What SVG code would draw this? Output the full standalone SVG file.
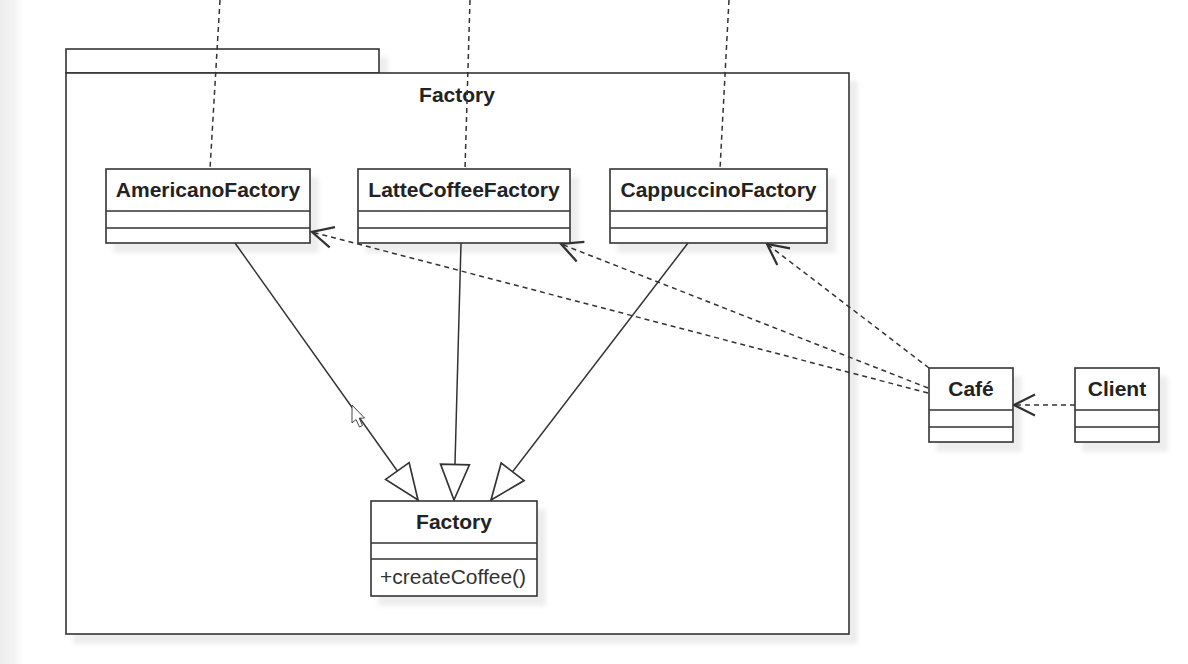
<svg xmlns="http://www.w3.org/2000/svg" width="1188" height="664" viewBox="0 0 1188 664">
<style>
  .box{fill:#fff;stroke:#333;stroke-width:1.6}
  .div{stroke:#333;stroke-width:1.6;fill:none}
  .ttl{font-family:"Liberation Sans",Arial,sans-serif;font-size:21px;font-weight:bold;fill:#222;text-anchor:middle}
  .mem{font-family:"Liberation Sans",Arial,sans-serif;font-size:21px;fill:#333}
  .gen{stroke:#333;stroke-width:1.5;fill:none;marker-end:url(#tri)}
  .dep{stroke:#333;stroke-width:1.5;fill:none;stroke-dasharray:5 4;marker-end:url(#open)}
  .dash{stroke:#333;stroke-width:1.5;fill:none;stroke-dasharray:5 4}
</style>
<defs>
  <linearGradient id="edge" x1="0" x2="1" y1="0" y2="0">
    <stop offset="0" stop-color="#eeeeee"/>
    <stop offset="0.6" stop-color="#f4f4f4"/>
    <stop offset="1" stop-color="#ffffff"/>
  </linearGradient>
  <filter id="sh" x="-10%" y="-10%" width="130%" height="140%">
    <feDropShadow dx="8" dy="9" stdDeviation="2" flood-color="#000" flood-opacity="0.07"/>
  </filter>
  <marker id="tri" markerUnits="userSpaceOnUse" markerWidth="40" markerHeight="40" viewBox="-34 -15 36 30" refX="0" refY="0" orient="auto">
    <path d="M0,0 L-32,-13 L-32,13 Z" fill="#fff" stroke="#333" stroke-width="1.5"/>
  </marker>
  <marker id="open" markerUnits="userSpaceOnUse" markerWidth="30" markerHeight="30" viewBox="-16 -10 18 20" refX="0" refY="0" orient="auto">
    <path d="M-14,-7 L0,0 L-14,7" fill="none" stroke="#333" stroke-width="1.5"/>
  </marker>
</defs>
<rect x="0" y="0" width="1188" height="664" fill="#fff"/>
<rect x="0" y="0" width="24" height="664" fill="url(#edge)"/>

<g id="package-Factory">
  <g filter="url(#sh)">
    <rect class="box" x="66" y="49" width="313" height="24"/>
    <rect class="box" x="66" y="73" width="783" height="561"/>
  </g>
  <text class="ttl" x="457" y="102">Factory</text>
</g>

<g id="connectors">
  <path class="dash" d="M220,0 L210,169"/>
  <path class="dash" d="M470,0 L465,169"/>
  <path class="dash" d="M729,0 L720,169"/>
  <path class="gen" d="M235,243 L418,500"/>
  <path class="gen" d="M461,243 L454,500"/>
  <path class="gen" d="M688,243 L491,500"/>
  <path class="dep" d="M928,393 L312,232"/>
  <path class="dep" d="M928,388 L561,244"/>
  <path class="dep" d="M929,368 L767,244"/>
  <path class="dep" d="M1075,405 L1014,405"/>
</g>

<g id="AmericanoFactory">
  <rect class="box" x="106" y="169" width="204" height="74" filter="url(#sh)"/>
  <path class="div" d="M106,211 H310 M106,228 H310"/>
  <text class="ttl" x="208" y="197">AmericanoFactory</text>
</g>
<g id="LatteCoffeeFactory">
  <rect class="box" x="358" y="169" width="212" height="74" filter="url(#sh)"/>
  <path class="div" d="M358,211 H570 M358,228 H570"/>
  <text class="ttl" x="464" y="197">LatteCoffeeFactory</text>
</g>
<g id="CappuccinoFactory">
  <rect class="box" x="610" y="169" width="217" height="74" filter="url(#sh)"/>
  <path class="div" d="M610,211 H827 M610,228 H827"/>
  <text class="ttl" x="718.5" y="197">CappuccinoFactory</text>
</g>
<g id="Factory">
  <rect class="box" x="371" y="501" width="166" height="95" filter="url(#sh)"/>
  <path class="div" d="M371,543 H537 M371,559 H537"/>
  <text class="ttl" x="454" y="529">Factory</text>
  <text class="mem" x="380" y="584">+createCoffee()</text>
</g>
<g id="Cafe">
  <rect class="box" x="929" y="368" width="84" height="74" filter="url(#sh)"/>
  <path class="div" d="M929,410 H1013 M929,427 H1013"/>
  <text class="ttl" x="971" y="396">Café</text>
</g>
<g id="Client">
  <rect class="box" x="1075" y="368" width="84" height="74" filter="url(#sh)"/>
  <path class="div" d="M1075,410 H1159 M1075,427 H1159"/>
  <text class="ttl" x="1117" y="396">Client</text>
</g>

<path d="M352,405 L352,423 L356,419.5 L359.5,427 L362.5,425.5 L359.2,418.2 L364.5,418 Z" fill="#fff" stroke="#444" stroke-width="1"/>
</svg>
